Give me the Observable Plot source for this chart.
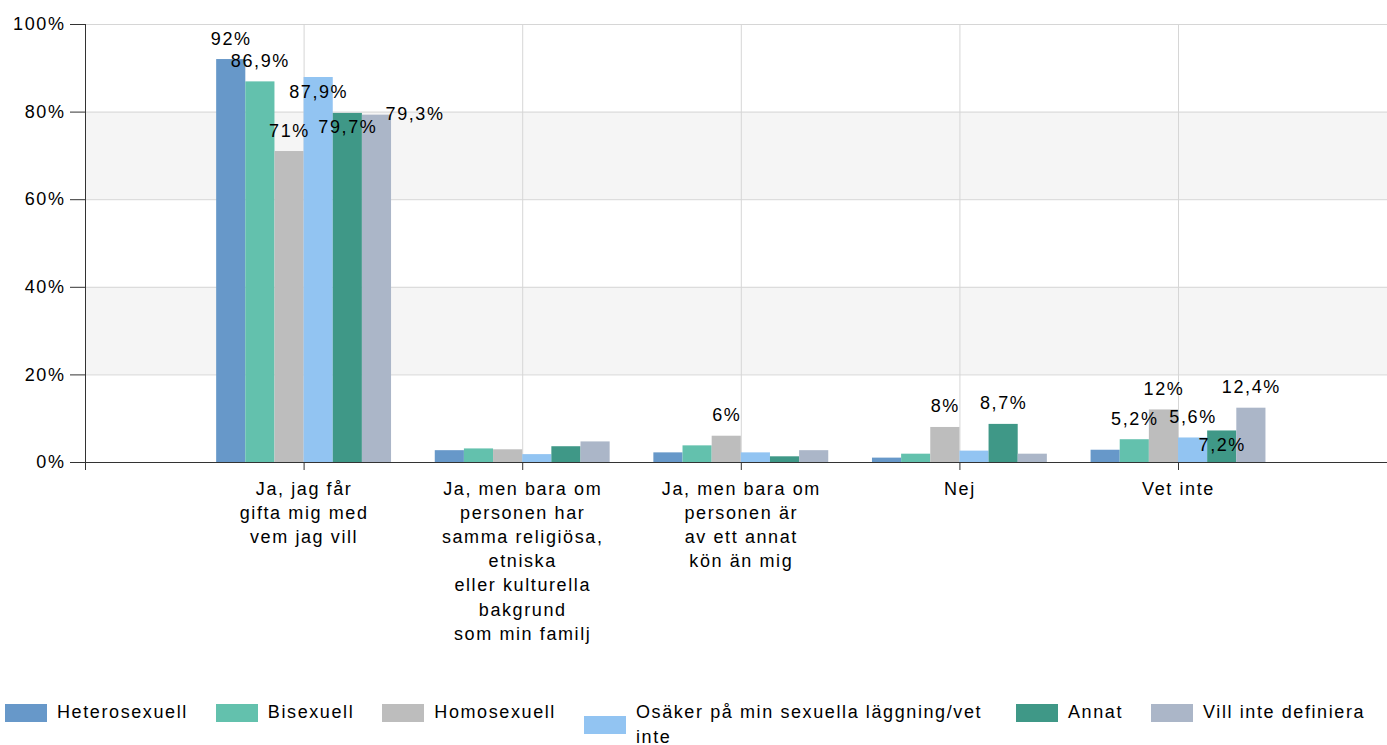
<!DOCTYPE html>
<html>
<head>
<meta charset="utf-8">
<script src="https://cdn.jsdelivr.net/npm/d3@7"></script>
<script src="https://cdn.jsdelivr.net/npm/@observablehq/plot@0.6"></script>
<style>
  body { margin: 0; background: #fff; font-family: "Liberation Sans", Arial, sans-serif; }
  #chart svg { display: block; }
  #chart svg text { letter-spacing: 1.6px; }
  .legend { display: flex; align-items: flex-start; margin-left: 5px; padding-top: 10px; gap: 28px;
            font-size: 18px; letter-spacing: 1.6px; color: #000; line-height: 25px; }
  .item { display: flex; align-items: center; flex: none; }
  .sw { width: 42px; height: 18px; margin-right: 10px; flex: none; }
  .wrap { max-width: 352px; }
</style>
</head>
<body>
<div id="chart"></div>
<div class="legend" id="legend"></div>
<script>
// ---- data ----
const categories = [
  "Ja, jag får\ngifta mig med\nvem jag vill",
  "Ja, men bara om\npersonen har\nsamma religiösa,\netniska\neller kulturella\nbakgrund\nsom min familj",
  "Ja, men bara om\npersonen är\nav ett annat\nkön än mig",
  "Nej",
  "Vet inte"
];
const series = ["Heterosexuell", "Bisexuell", "Homosexuell", "Osäker på min sexuella läggning/vet inte", "Annat", "Vill inte definiera"];
const colors = ["#6798c9", "#63c1ad", "#bdbdbd", "#92c4f2", "#3f9887", "#abb6c8"];

const heterosexuell     = [92,   2.7, 2.2, 1.0, 2.8];
const bisexuell         = [86.9, 3.1, 3.8, 1.9, 5.2];
const homosexuell       = [71,   2.9, 6,   8,   12];
const osaker            = [87.9, 1.8, 2.2, 2.6, 5.6];
const annat             = [79.7, 3.6, 1.3, 8.7, 7.2];
const villInteDefiniera = [79.3, 4.7, 2.7, 1.9, 12.4];

const yTicks = [0, 20, 40, 60, 80, 100];
const labelMin = 5;

// ---- layout ----
const W = 1387, H = 690, ML = 85, MR = 0, MT = 24, MB = 228;
const xDomain = [-1, 4.956];
const groupWidth = 0.8;
const barW = groupWidth / series.length;
const fontSize = 18, letterSpacing = 1.6;

const valuesBySeries = [heterosexuell, bisexuell, homosexuell, osaker, annat, villInteDefiniera];
const bars = [];
categories.forEach((c, ci) => series.forEach((s, si) => bars.push({ci, si, series: s, value: valuesBySeries[si][ci]})));
const barX1 = d => d.ci + (d.si - series.length / 2) * barW;
const barX2 = d => barX1(d) + barW;

const fmt = v => String(v).replace(".", ",") + "%";

// label placement with simple collision avoidance, computed through Plot scales
const xs = Plot.scale({x: {domain: xDomain, range: [ML, W - MR]}});
const ys = Plot.scale({y: {domain: [0, 100], range: [H - MB, MT]}});
const xInv = xs.invert ? (p => xs.invert(p)) : d3.scaleLinear().domain(xs.range).range(xs.domain);
const yInv = ys.invert ? (p => ys.invert(p)) : d3.scaleLinear().domain(ys.range).range(ys.domain);
const ctx = document.createElement("canvas").getContext("2d");
ctx.font = `${fontSize}px "Liberation Sans"`;
const measure = t => ctx.measureText(t).width + t.length * letterSpacing;

const placed = [];
const labels = [];
const pad = 2;
for (const d of bars) {
  if (d.value < labelMin) continue;
  const text = fmt(d.value);
  const w = measure(text);
  const cx = xs.apply((barX1(d) + barX2(d)) / 2);
  const top = ys.apply(d.value);
  const right = xs.apply(barX2(d));
  const candidates = [
    {x: cx, b: top - 15},
    {x: cx, b: top + 20},
    {x: right - 6 + w / 2, b: top + 5}
  ];
  let chosen = candidates[candidates.length - 1];
  for (const c of candidates) {
    const box = {x0: c.x - w / 2 - pad, x1: c.x + w / 2 + pad, y0: c.b - 14, y1: c.b + 3};
    const hit = placed.some(p => box.x0 < p.x1 && box.x1 > p.x0 && box.y0 < p.y1 && box.y1 > p.y0);
    if (!hit) { chosen = c; break; }
  }
  placed.push({x0: chosen.x - w / 2 - pad, x1: chosen.x + w / 2 + pad, y0: chosen.b - 14, y1: chosen.b + 3});
  labels.push({x: xInv(chosen.x), y: yInv(chosen.b - 0.32 * fontSize), text});
}

const bands = [];
for (let i = 1; i + 1 < yTicks.length; i += 2) bands.push({y1: yTicks[i], y2: yTicks[i + 1]});

const plot = Plot.plot({
  width: W, height: H,
  marginLeft: ML, marginRight: MR, marginTop: MT, marginBottom: MB,
  style: {fontFamily: '"Liberation Sans", Arial, sans-serif', fontSize: "18px", color: "#000", background: "#fff"},
  x: {domain: xDomain, axis: null},
  y: {domain: [0, 100], axis: null},
  color: {domain: series, range: colors},
  marks: [
    Plot.rectY(bands, {y1: "y1", y2: "y2", fill: "#f5f5f5"}),
    Plot.ruleY(yTicks, {stroke: "#d6d6d6"}),
    Plot.ruleX(d3.range(categories.length), {stroke: "#d6d6d6"}),
    Plot.rectY(bars, {x1: barX1, x2: barX2, y1: 0, y2: "value", fill: "series"}),
    Plot.text(labels, {x: "x", y: "y", text: "text", fontSize, fill: "#000", textAnchor: "middle"}),
    Plot.ruleY([0], {stroke: "#333"}),
    Plot.ruleX([xDomain[0]], {stroke: "#333"}),
    Plot.axisY(yTicks, {tickFormat: d => d + "%", tickSize: 15, tickPadding: 5, fontSize, stroke: "#333", fill: "#000", label: null}),
    Plot.axisX([-1, ...d3.range(categories.length)], {
      tickFormat: i => categories[i] ?? "", tickSize: 8, tickPadding: 7, fontSize,
      lineHeight: 1.344, stroke: "#333", fill: "#000", label: null
    })
  ]
});
document.getElementById("chart").appendChild(plot);

// legend
const legend = document.getElementById("legend");
series.forEach((s, i) => {
  const item = document.createElement("div");
  item.className = "item";
  const sw = document.createElement("span");
  sw.className = "sw";
  sw.style.background = colors[i];
  const t = document.createElement("span");
  t.textContent = s;
  if (s.length > 30) t.className = "wrap";
  item.appendChild(sw);
  item.appendChild(t);
  legend.appendChild(item);
});
</script>
</body>
</html>
